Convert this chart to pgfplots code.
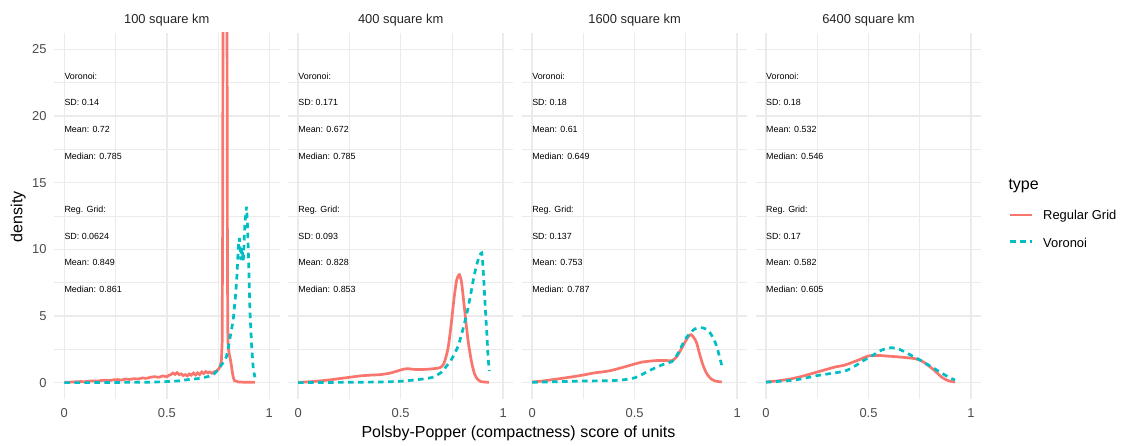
\documentclass[border=0pt]{standalone}
\usepackage{fontspec}
\setmainfont{Liberation Sans}
\usepackage{pgfplots}
\pgfplotsset{compat=1.18}
\definecolor{gg1}{HTML}{F8766D}
\definecolor{gg2}{HTML}{00BFC4}
\definecolor{grid92}{gray}{0.92}
\definecolor{grey30}{gray}{0.30}
\pgfplotsset{
 panel/.style={
  scale only axis, width=225.5pt, height=366.6pt,
  xmin=-0.05, xmax=1.05, ymin=-1.25, ymax=26.25,
  axis line style={draw=none},
  major tick length=0pt, minor tick length=0pt,
  xtick={0,0.5,1}, minor xtick={0.25,0.75},
  ytick={0,5,10,15,20,25}, minor ytick={2.5,7.5,12.5,17.5,22.5},
  grid=both,
  major grid style={draw=grid92, line width=1.5pt},
  minor grid style={draw=grid92, line width=0.8pt},
  /pgf/number format/assume math mode=true,
  ticklabel style={font=\fontsize{12.9}{13}\selectfont, text=grey30, inner sep=0pt},
  xticklabel style={yshift=-9pt},
  yticklabel style={xshift=-7.3pt},
 },
 reg/.style={draw=gg1, line width=2.7pt, no markers},
 vor/.style={draw=gg2, line width=2.7pt, no markers, dash pattern=on 5.5pt off 4.5pt},
}
\newcommand{\stats}[6]{%
 \begin{scope}[every node/.style={anchor=base west, inner sep=0pt, yshift=-3.2pt, font=\fontsize{8.9}{9}\selectfont}]
 \node at (axis cs:0,23) {Voronoi:};
 \node at (axis cs:0,21) {SD: #1};
 \node at (axis cs:0,19) {Mean: #2};
 \node at (axis cs:0,17) {Median: #3};
 \node at (axis cs:0,13) {Reg. Grid:};
 \node at (axis cs:0,11) {SD: #4};
 \node at (axis cs:0,9) {Mean: #5};
 \node at (axis cs:0,7) {Median: #6};
 \end{scope}}
\begin{document}
\begin{tikzpicture}[x=1pt,y=1pt]
\useasboundingbox (0,0) rectangle (1126,446);
\fill[white] (0,0) rectangle (1126,446);

% Panel 1: 100 square km
\begin{axis}[panel, at={(54.05pt,46.7pt)}, anchor=south west]
\addplot[reg] coordinates {(0,0.02) (0.02,0.03) (0.04,0.05) (0.06,0.07) (0.08,0.08) (0.10,0.07) (0.12,0.11) (0.14,0.13) (0.16,0.11) (0.18,0.16) (0.20,0.18) (0.22,0.15) (0.24,0.21) (0.26,0.23) (0.28,0.19) (0.30,0.27) (0.32,0.24) (0.34,0.30) (0.36,0.27) (0.38,0.35) (0.40,0.32) (0.42,0.40) (0.44,0.45) (0.46,0.40) (0.48,0.50) (0.50,0.44) (0.51,0.55) (0.52,0.60) (0.53,0.72) (0.54,0.62) (0.55,0.75) (0.56,0.60) (0.57,0.66) (0.58,0.53) (0.59,0.60) (0.60,0.50) (0.61,0.65) (0.62,0.56) (0.63,0.72) (0.64,0.58) (0.65,0.73) (0.66,0.60) (0.67,0.80) (0.68,0.68) (0.69,0.83) (0.70,0.73) (0.71,0.80) (0.72,0.70) (0.73,0.80) (0.74,0.86) (0.75,0.97) (0.76,1.2) (0.766,1.6) (0.770,3) (0.7725,12) (0.775,35) (0.78,55) (0.785,60) (0.79,50) (0.7935,30) (0.796,8) (0.798,3.2) (0.80,2.6) (0.805,2.1) (0.81,1.75) (0.815,1.3) (0.82,0.75) (0.825,0.35) (0.83,0.15) (0.85,0.05) (0.88,0.03) (0.93,0.02)};
\addplot[vor] coordinates {(0,0) (0.1,0.0) (0.2,0.01) (0.3,0.02) (0.4,0.03) (0.45,0.05) (0.5,0.08) (0.55,0.12) (0.6,0.22) (0.65,0.3) (0.7,0.45) (0.73,0.65) (0.75,0.95) (0.77,1.4) (0.79,1.9) (0.80,2.6) (0.81,3.5) (0.824,4.7) (0.835,6.5) (0.841,7.7) (0.849,10.2) (0.854,10.85) (0.858,10.0) (0.862,9.2) (0.865,10.1) (0.869,9.8) (0.873,9.1) (0.877,10.5) (0.881,12.0) (0.889,13.2) (0.893,12.0) (0.897,10.2) (0.902,7.5) (0.906,5.2) (0.914,2.7) (0.922,1.0) (0.93,0.4)};
\stats{0.14}{0.72}{0.785}{0.0624}{0.849}{0.861}
\end{axis}

% Panel 2: 400 square km
\begin{axis}[panel, at={(287.95pt,46.7pt)}, anchor=south west, yticklabels={}]
\addplot[reg, smooth, tension=0.4] coordinates {(0,0.02) (0.05,0.06) (0.1,0.12) (0.15,0.2) (0.2,0.3) (0.25,0.4) (0.3,0.5) (0.35,0.56) (0.4,0.6) (0.45,0.72) (0.5,0.95) (0.53,1.05) (0.56,1.0) (0.6,0.98) (0.65,1.03) (0.69,1.12) (0.71,1.4) (0.73,2.5) (0.745,4.2) (0.76,6.3) (0.773,7.7) (0.786,8.1) (0.797,7.5) (0.808,6.0) (0.82,4.3) (0.83,3.0) (0.845,1.6) (0.86,0.65) (0.875,0.25) (0.89,0.08) (0.93,0.02)};
\addplot[vor, smooth, tension=0.4] coordinates {(0,0) (0.1,0.01) (0.2,0.02) (0.3,0.03) (0.4,0.05) (0.5,0.1) (0.58,0.22) (0.62,0.3) (0.66,0.42) (0.7,0.8) (0.724,1.25) (0.75,1.8) (0.78,2.74) (0.80,3.8) (0.82,5.0) (0.84,6.5) (0.854,7.7) (0.87,8.8) (0.884,9.5) (0.895,9.73) (0.9,9.0) (0.906,7.5) (0.913,5.5) (0.92,3.74) (0.926,2.0) (0.932,0.87)};
\stats{0.171}{0.672}{0.785}{0.093}{0.828}{0.853}
\end{axis}

% Panel 3: 1600 square km
\begin{axis}[panel, at={(521.85pt,46.7pt)}, anchor=south west, yticklabels={}]
\addplot[reg, smooth, tension=0.5] coordinates {(0,0.05) (0.05,0.12) (0.112,0.25) (0.18,0.4) (0.242,0.55) (0.3,0.72) (0.372,0.87) (0.437,1.12) (0.5,1.4) (0.535,1.54) (0.6,1.65) (0.65,1.66) (0.681,1.65) (0.7,1.85) (0.713,2.12) (0.73,2.6) (0.746,3.04) (0.762,3.45) (0.775,3.6) (0.788,3.4) (0.802,3.0) (0.818,2.1) (0.835,1.25) (0.855,0.6) (0.876,0.25) (0.9,0.1) (0.925,0.05)};
\addplot[vor, smooth, tension=0.5] coordinates {(0,0.02) (0.1,0.06) (0.242,0.12) (0.3,0.13) (0.388,0.15) (0.45,0.22) (0.502,0.37) (0.535,0.6) (0.567,0.87) (0.6,1.1) (0.632,1.32) (0.66,1.48) (0.681,1.57) (0.7,1.9) (0.713,2.24) (0.73,2.75) (0.746,3.24) (0.77,3.7) (0.795,4.04) (0.827,4.12) (0.85,4.0) (0.868,3.74) (0.885,3.3) (0.9,2.74) (0.915,1.9) (0.928,1.12)};
\stats{0.18}{0.61}{0.649}{0.137}{0.753}{0.787}
\end{axis}

% Panel 4: 6400 square km
\begin{axis}[panel, at={(755.75pt,46.7pt)}, anchor=south west, yticklabels={}]
\addplot[reg, smooth, tension=0.5] coordinates {(0,0.05) (0.05,0.12) (0.109,0.25) (0.17,0.45) (0.239,0.75) (0.29,0.97) (0.336,1.17) (0.38,1.3) (0.418,1.5) (0.46,1.75) (0.499,2.0) (0.548,2.04) (0.6,1.98) (0.63,1.95) (0.68,1.88) (0.727,1.8) (0.76,1.62) (0.79,1.3) (0.825,0.87) (0.85,0.5) (0.874,0.25) (0.9,0.1) (0.922,0.05)};
\addplot[vor, smooth, tension=0.5] coordinates {(0,0.03) (0.125,0.17) (0.18,0.3) (0.239,0.5) (0.3,0.65) (0.385,0.87) (0.434,1.25) (0.475,1.65) (0.516,2.0) (0.564,2.44) (0.613,2.62) (0.65,2.5) (0.678,2.29) (0.72,1.95) (0.76,1.62) (0.8,1.25) (0.841,0.87) (0.875,0.55) (0.906,0.3) (0.922,0.2)};
\stats{0.18}{0.532}{0.546}{0.17}{0.582}{0.605}
\end{axis}

% strip titles
\begin{scope}[every node/.style={anchor=base, inner sep=0pt, font=\fontsize{12.9}{13}\selectfont, text=black!85}]
\node at (166.8,422.7) {100 square km};
\node at (400.7,422.7) {400 square km};
\node at (634.6,422.7) {1600 square km};
\node at (868.5,422.7) {6400 square km};
\end{scope}

% axis titles
\node[rotate=90, inner sep=0pt, font=\fontsize{16}{16}\selectfont] at (18.3,229.3) {density};
\node[anchor=base, inner sep=0pt, font=\fontsize{16}{16}\selectfont] at (518.5,8.7) {Polsby-Popper (compactness) score of units};

% legend
\node[anchor=base west, inner sep=0pt, font=\fontsize{16}{16}\selectfont] at (1008.3,256) {type};
\draw[gg1, line width=2.7pt] (1010,231) -- (1032,231);
\draw[gg2, line width=2.7pt, dash pattern=on 5.5pt off 4.5pt] (1010,204.3) -- (1032,204.3);
\node[anchor=base west, inner sep=0pt, font=\fontsize{12.9}{13}\selectfont] at (1043,226) {Regular Grid};
\node[anchor=base west, inner sep=0pt, font=\fontsize{12.9}{13}\selectfont] at (1043,198.7) {Voronoi};
\end{tikzpicture}
\end{document}
